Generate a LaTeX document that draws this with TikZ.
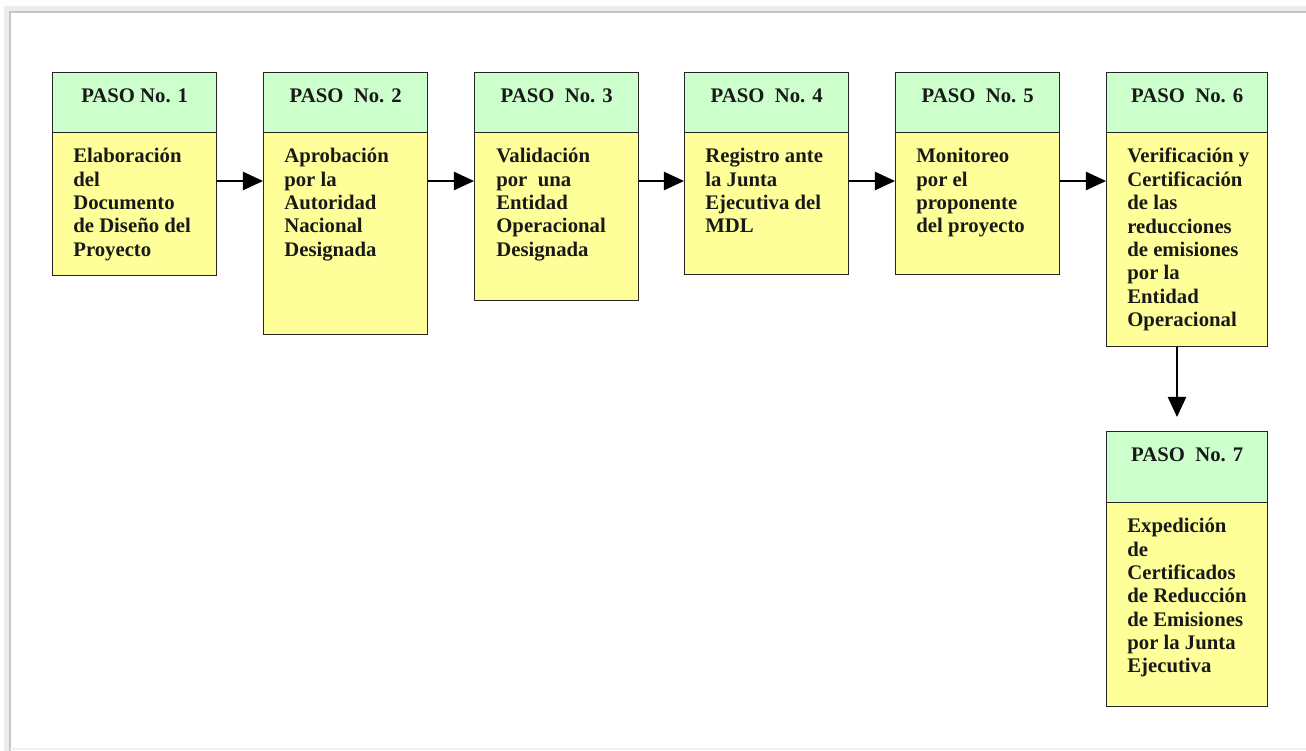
\documentclass[tikz,border=0pt]{standalone}
\usepackage{fontspec}
\setmainfont{Liberation Serif}
\usepackage{tikz}
\usetikzlibrary{calc}
\usetikzlibrary{arrows.meta}

\definecolor{verdepaso}{RGB}{204,255,204}
\definecolor{amarillopaso}{RGB}{255,255,153}
\tikzset{
  cabeza/.style={draw=black!85, fill=verdepaso, line width=0.8pt, anchor=north west,
    minimum width=3.28cm, minimum height=1.2cm, inner sep=0pt},
  cuerpo/.style={draw=black!85, fill=amarillopaso, line width=0.8pt, anchor=north west,
    minimum width=3.28cm, inner sep=0pt},
  titulo/.style={inner sep=0pt, font=\fontsize{11.8}{13.4}\selectfont\bfseries, text=black!90},
  texto/.style={anchor=north west, align=left, inner sep=0pt,
    font=\fontsize{11.8}{13.3}\selectfont\bfseries, text=black!90},
  flecha/.style={line width=0.8pt, -{Triangle[length=11.5pt,width=10.5pt]}}
}

\begin{document}
\begin{tikzpicture}[x=0.02cm, y=-0.02cm]
        \useasboundingbox (0,0) rectangle (1306,751);
        \draw [gray!15, line width=3pt] (7,751) -- (7,9) -- (1306,9);
        \draw [gray!45, line width=1pt] (10,751) -- (10,12) -- (1306,12);
        \draw [gray!12, line width=1pt] (10,749) -- (1306,749);

        \node [cuerpo, minimum height=2.86cm] (b1) at (52,132) {};
        \node [cabeza] (c1) at (52,72) {};
        \node [titulo] (p1) at ($(c1.north)+(0,24)$) {PASO No. 1};
        \node [texto] (t1) at ($(b1.north west)+(21,16)$) {Elaboración\\del\\Documento\\de Diseño del\\Proyecto};

        \node [cuerpo, minimum height=4.04cm] (b2) at (263,132) {};
        \node [cabeza] (c2) at (263,72) {};
        \node [titulo] (p2) at ($(c2.north)+(0,24)$) {PASO\ \ No. 2};
        \node [texto] (t2) at ($(b2.north west)+(21,16)$) {Aprobación\\por la\\Autoridad\\Nacional\\Designada};

        \node [cuerpo, minimum height=3.36cm] (b3) at (474,132) {};
        \node [cabeza] (c3) at (474,72) {};
        \node [titulo] (p3) at ($(c3.north)+(0,24)$) {PASO\ \ No. 3};
        \node [texto] (t3) at ($(b3.north west)+(22,16)$) {Validación\\por\ \ una\\Entidad\\Operacional\\Designada};

        \node [cuerpo, minimum height=2.84cm] (b4) at (684,132) {};
        \node [cabeza] (c4) at (684,72) {};
        \node [titulo] (p4) at ($(c4.north)+(0,24)$) {PASO\ \ No. 4};
        \node [texto] (t4) at ($(b4.north west)+(21,16)$) {Registro ante\\la Junta\\Ejecutiva del\\MDL};

        \node [cuerpo, minimum height=2.84cm] (b5) at (895,132) {};
        \node [cabeza] (c5) at (895,72) {};
        \node [titulo] (p5) at ($(c5.north)+(0,24)$) {PASO\ \ No. 5};
        \node [texto] (t5) at ($(b5.north west)+(21,16)$) {Monitoreo\\por el\\proponente\\del proyecto};

        \node [cuerpo, minimum width=3.22cm, minimum height=4.28cm] (b6) at (1106,132) {};
        \node [cabeza, minimum width=3.22cm] (c6) at (1106,72) {};
        \node [titulo] (p6) at ($(c6.north)+(0,24)$) {PASO\ \ No. 6};
        \node [texto] (t6) at ($(b6.north west)+(21,16)$) {Verificación y\\Certificación\\de las\\reducciones\\de emisiones\\por la\\Entidad\\Operacional};

        \node [cuerpo, minimum width=3.22cm, minimum height=4.08cm] (b7) at (1106,502) {};
        \node [cabeza, minimum width=3.22cm, minimum height=1.42cm] (c7) at (1106,431) {};
        \node [titulo] (p7) at ($(c7.north)+(0,24)$) {PASO\ \ No. 7};
        \node [texto] (t7) at ($(b7.north west)+(21,16)$) {Expedición\\de\\Certificados\\de Reducción\\de Emisiones\\por la Junta\\Ejecutiva};

        \draw [flecha] (b1.east |- 0,181) -- (b2.west |- 0,181);
        \draw [flecha] (b2.east |- 0,181) -- (b3.west |- 0,181);
        \draw [flecha] (b3.east |- 0,181) -- (b4.west |- 0,181);
        \draw [flecha] (b4.east |- 0,181) -- (b5.west |- 0,181);
        \draw [flecha] (b5.east |- 0,181) -- (b6.west |- 0,181);
        \coordinate (f7) at (1177,417);
        \draw [flecha] (b6.south -| f7) -- (f7);
    \end{tikzpicture}
\end{document}
